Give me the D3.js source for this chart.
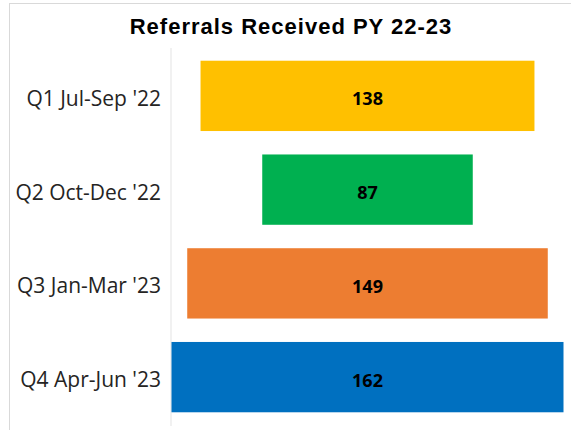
<!DOCTYPE html>
<html><head><meta charset="utf-8">
<script src="https://cdn.jsdelivr.net/npm/d3@7/dist/d3.min.js"></script>
<style>body{margin:0;background:#fff;}svg{display:block;}</style>
</head><body>
<svg id="c" width="571" height="430"></svg>
<script>
const categories = ["Q1 Jul-Sep '22", "Q2 Oct-Dec '22", "Q3 Jan-Mar '23", "Q4 Apr-Jun '23"];
const values = [138, 87, 149, 162];
const colors = ["#FFC000", "#00B050", "#ED7D31", "#0070C0"];
const title = "Referrals Received PY 22-23";

(function () {
const svg = d3.select("#c");
// frame
svg.append("rect").attr("x", 9.5).attr("y", 3.5).attr("width", 600).attr("height", 500)
  .attr("fill", "none").attr("stroke", "#d9d9d9").attr("stroke-width", 1);

svg.append("text").attr("x", 291).attr("y", 34).attr("text-anchor", "middle")
  .attr("font-family", "Liberation Sans, Arial, sans-serif").attr("font-weight", "bold")
  .attr("font-size", 22).attr("letter-spacing", 1).attr("fill", "#000").text(title);

const pLeft = 171.5, pRight = 563.5, pTop = 49, pBottom = 424;
const y = d3.scaleBand().domain(categories).range([pTop, pBottom]).paddingInner(0.25).paddingOuter(0.125);
const w = d3.scaleLinear().domain([0, d3.max(values)]).range([0, pRight - pLeft]);
const cx = (pLeft + pRight) / 2;

svg.append("line").attr("x1", 171).attr("x2", 171).attr("y1", 48).attr("y2", 426)
  .attr("stroke", "#e3e3e3").attr("stroke-width", 1);

const g = svg.append("g");
categories.forEach((c, i) => {
  const yc = y(c) + y.bandwidth() / 2;
  g.append("rect").attr("x", cx - w(values[i]) / 2).attr("y", y(c))
    .attr("width", w(values[i])).attr("height", y.bandwidth()).attr("fill", colors[i]);
  g.append("text").attr("x", cx).attr("y", yc + 9.5)
    .attr("text-anchor", "middle").attr("font-family", "Open Sans, sans-serif")
    .attr("font-weight", "bold").attr("font-size", 18).attr("fill", "#000").text(values[i]);
  g.append("text").attr("x", 161).attr("y", yc + 10)
    .attr("text-anchor", "end").attr("font-family", "Open Sans, sans-serif")
    .attr("font-size", 21).attr("fill", "#252423").text(c);
});
})();
</script>
</body></html>
